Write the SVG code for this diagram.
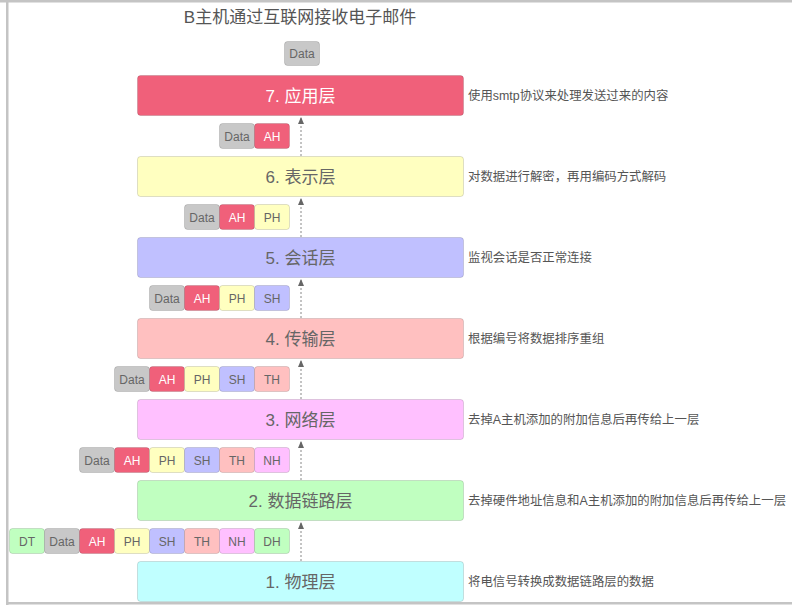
<svg xmlns="http://www.w3.org/2000/svg" width="792" height="607" viewBox="0 0 792 607">
<style>
text{font-family:"Liberation Sans","Noto Sans CJK SC",sans-serif;}
.title{font-size:17px;fill:#555;text-anchor:middle;}
.lt{font-size:17px;fill:#666;text-anchor:middle;}
.desc{font-size:12.4px;fill:#555;}
.box{stroke:#000;stroke-opacity:0.13;stroke-width:1;}
.c{stroke:#000;stroke-opacity:0.13;stroke-width:1;}
.ct{font-size:12px;fill:#666;text-anchor:middle;}
.w{fill:#fff;}
.data{fill:#c8c8c8;}
.ah{fill:#f0607a;}
.ph{fill:#ffffc0;}
.sh{fill:#c0c0ff;}
.th{fill:#ffc0c0;}
.nh{fill:#ffc0ff;}
.dh{fill:#c0ffc0;}
.conn line{stroke:#888;stroke-width:1;stroke-dasharray:2 2;}
</style>
<defs>
<marker id="ah" markerWidth="7" markerHeight="6" refX="7" refY="3" orient="auto" markerUnits="userSpaceOnUse" viewBox="0 0 7 6">
<path d="M0,0 L7,3 L0,6 Z" fill="#666"/>
</marker>
</defs>
<rect x="0" y="0" width="792" height="607" fill="#fff"/>
<g id="frame" fill="#c4c4c4">
<rect x="0" y="0" width="792" height="2.5"/>
<rect x="6" y="0" width="2.5" height="605"/>
<rect x="6" y="602" width="786" height="2.5"/>
</g>
<text class="title" x="300" y="23">B主机通过互联网接收电子邮件</text>

<g class="conn">
<line x1="301" y1="156" x2="301" y2="117" marker-end="url(#ah)"/>
<line x1="301" y1="237" x2="301" y2="198" marker-end="url(#ah)"/>
<line x1="301" y1="318" x2="301" y2="279" marker-end="url(#ah)"/>
<line x1="301" y1="399" x2="301" y2="360" marker-end="url(#ah)"/>
<line x1="301" y1="480" x2="301" y2="441" marker-end="url(#ah)"/>
<line x1="301" y1="561" x2="301" y2="522" marker-end="url(#ah)"/>
</g>

<g id="layer7">
<rect class="box" x="137.5" y="75.5" width="326" height="40" rx="3" fill="#f0607a"/>
<text class="lt" x="300.5" y="101.5" style="fill:#fff">7. 应用层</text>
<text class="desc" x="468" y="99.5">使用smtp协议来处理发送过来的内容</text>
</g>
<g id="layer6">
<rect class="box" x="137.5" y="156.5" width="326" height="40" rx="3" fill="#ffffc0"/>
<text class="lt" x="300.5" y="182.5">6. 表示层</text>
<text class="desc" x="468" y="180.5">对数据进行解密，再用编码方式解码</text>
</g>
<g id="layer5">
<rect class="box" x="137.5" y="237.5" width="326" height="40" rx="3" fill="#c0c0ff"/>
<text class="lt" x="300.5" y="263.5">5. 会话层</text>
<text class="desc" x="468" y="261.5">监视会话是否正常连接</text>
</g>
<g id="layer4">
<rect class="box" x="137.5" y="318.5" width="326" height="40" rx="3" fill="#ffc0c0"/>
<text class="lt" x="300.5" y="344.5">4. 传输层</text>
<text class="desc" x="468" y="342.5">根据编号将数据排序重组</text>
</g>
<g id="layer3">
<rect class="box" x="137.5" y="399.5" width="326" height="40" rx="3" fill="#ffc0ff"/>
<text class="lt" x="300.5" y="425.5">3. 网络层</text>
<text class="desc" x="468" y="423.5">去掉A主机添加的附加信息后再传给上一层</text>
</g>
<g id="layer2">
<rect class="box" x="137.5" y="480.5" width="326" height="40" rx="3" fill="#c0ffc0"/>
<text class="lt" x="300.5" y="506.5">2. 数据链路层</text>
<text class="desc" x="468" y="504.5">去掉硬件地址信息和A主机添加的附加信息后再传给上一层</text>
</g>
<g id="layer1">
<rect class="box" x="137.5" y="561.5" width="326" height="40" rx="3" fill="#c0ffff"/>
<text class="lt" x="300.5" y="587.5">1. 物理层</text>
<text class="desc" x="468" y="585.5">将电信号转换成数据链路层的数据</text>
</g>

<g id="packet0">
<rect class="c data" x="284.5" y="41.5" width="35" height="24" rx="3"/><text class="ct" x="302" y="58">Data</text>
</g>
<g id="packet1">
<rect class="c data" x="219.5" y="123.5" width="35" height="25" rx="3"/><text class="ct" x="237" y="140.5">Data</text>
<rect class="c ah" x="254.5" y="123.5" width="35" height="25" rx="3"/><text class="ct w" x="272" y="140.5">AH</text>
</g>
<g id="packet2">
<rect class="c data" x="184.5" y="204.5" width="35" height="25" rx="3"/><text class="ct" x="202" y="221.5">Data</text>
<rect class="c ah" x="219.5" y="204.5" width="35" height="25" rx="3"/><text class="ct w" x="237" y="221.5">AH</text>
<rect class="c ph" x="254.5" y="204.5" width="35" height="25" rx="3"/><text class="ct" x="272" y="221.5">PH</text>
</g>
<g id="packet3">
<rect class="c data" x="149.5" y="285.5" width="35" height="25" rx="3"/><text class="ct" x="167" y="302.5">Data</text>
<rect class="c ah" x="184.5" y="285.5" width="35" height="25" rx="3"/><text class="ct w" x="202" y="302.5">AH</text>
<rect class="c ph" x="219.5" y="285.5" width="35" height="25" rx="3"/><text class="ct" x="237" y="302.5">PH</text>
<rect class="c sh" x="254.5" y="285.5" width="35" height="25" rx="3"/><text class="ct" x="272" y="302.5">SH</text>
</g>
<g id="packet4">
<rect class="c data" x="114.5" y="366.5" width="35" height="25" rx="3"/><text class="ct" x="132" y="383.5">Data</text>
<rect class="c ah" x="149.5" y="366.5" width="35" height="25" rx="3"/><text class="ct w" x="167" y="383.5">AH</text>
<rect class="c ph" x="184.5" y="366.5" width="35" height="25" rx="3"/><text class="ct" x="202" y="383.5">PH</text>
<rect class="c sh" x="219.5" y="366.5" width="35" height="25" rx="3"/><text class="ct" x="237" y="383.5">SH</text>
<rect class="c th" x="254.5" y="366.5" width="35" height="25" rx="3"/><text class="ct" x="272" y="383.5">TH</text>
</g>
<g id="packet5">
<rect class="c data" x="79.5" y="447.5" width="35" height="25" rx="3"/><text class="ct" x="97" y="464.5">Data</text>
<rect class="c ah" x="114.5" y="447.5" width="35" height="25" rx="3"/><text class="ct w" x="132" y="464.5">AH</text>
<rect class="c ph" x="149.5" y="447.5" width="35" height="25" rx="3"/><text class="ct" x="167" y="464.5">PH</text>
<rect class="c sh" x="184.5" y="447.5" width="35" height="25" rx="3"/><text class="ct" x="202" y="464.5">SH</text>
<rect class="c th" x="219.5" y="447.5" width="35" height="25" rx="3"/><text class="ct" x="237" y="464.5">TH</text>
<rect class="c nh" x="254.5" y="447.5" width="35" height="25" rx="3"/><text class="ct" x="272" y="464.5">NH</text>
</g>
<g id="packet6">
<rect class="c dh" x="9.5" y="528.5" width="35" height="25" rx="3"/><text class="ct" x="27" y="545.5">DT</text>
<rect class="c data" x="44.5" y="528.5" width="35" height="25" rx="3"/><text class="ct" x="62" y="545.5">Data</text>
<rect class="c ah" x="79.5" y="528.5" width="35" height="25" rx="3"/><text class="ct w" x="97" y="545.5">AH</text>
<rect class="c ph" x="114.5" y="528.5" width="35" height="25" rx="3"/><text class="ct" x="132" y="545.5">PH</text>
<rect class="c sh" x="149.5" y="528.5" width="35" height="25" rx="3"/><text class="ct" x="167" y="545.5">SH</text>
<rect class="c th" x="184.5" y="528.5" width="35" height="25" rx="3"/><text class="ct" x="202" y="545.5">TH</text>
<rect class="c nh" x="219.5" y="528.5" width="35" height="25" rx="3"/><text class="ct" x="237" y="545.5">NH</text>
<rect class="c dh" x="254.5" y="528.5" width="35" height="25" rx="3"/><text class="ct" x="272" y="545.5">DH</text>
</g>
</svg>
